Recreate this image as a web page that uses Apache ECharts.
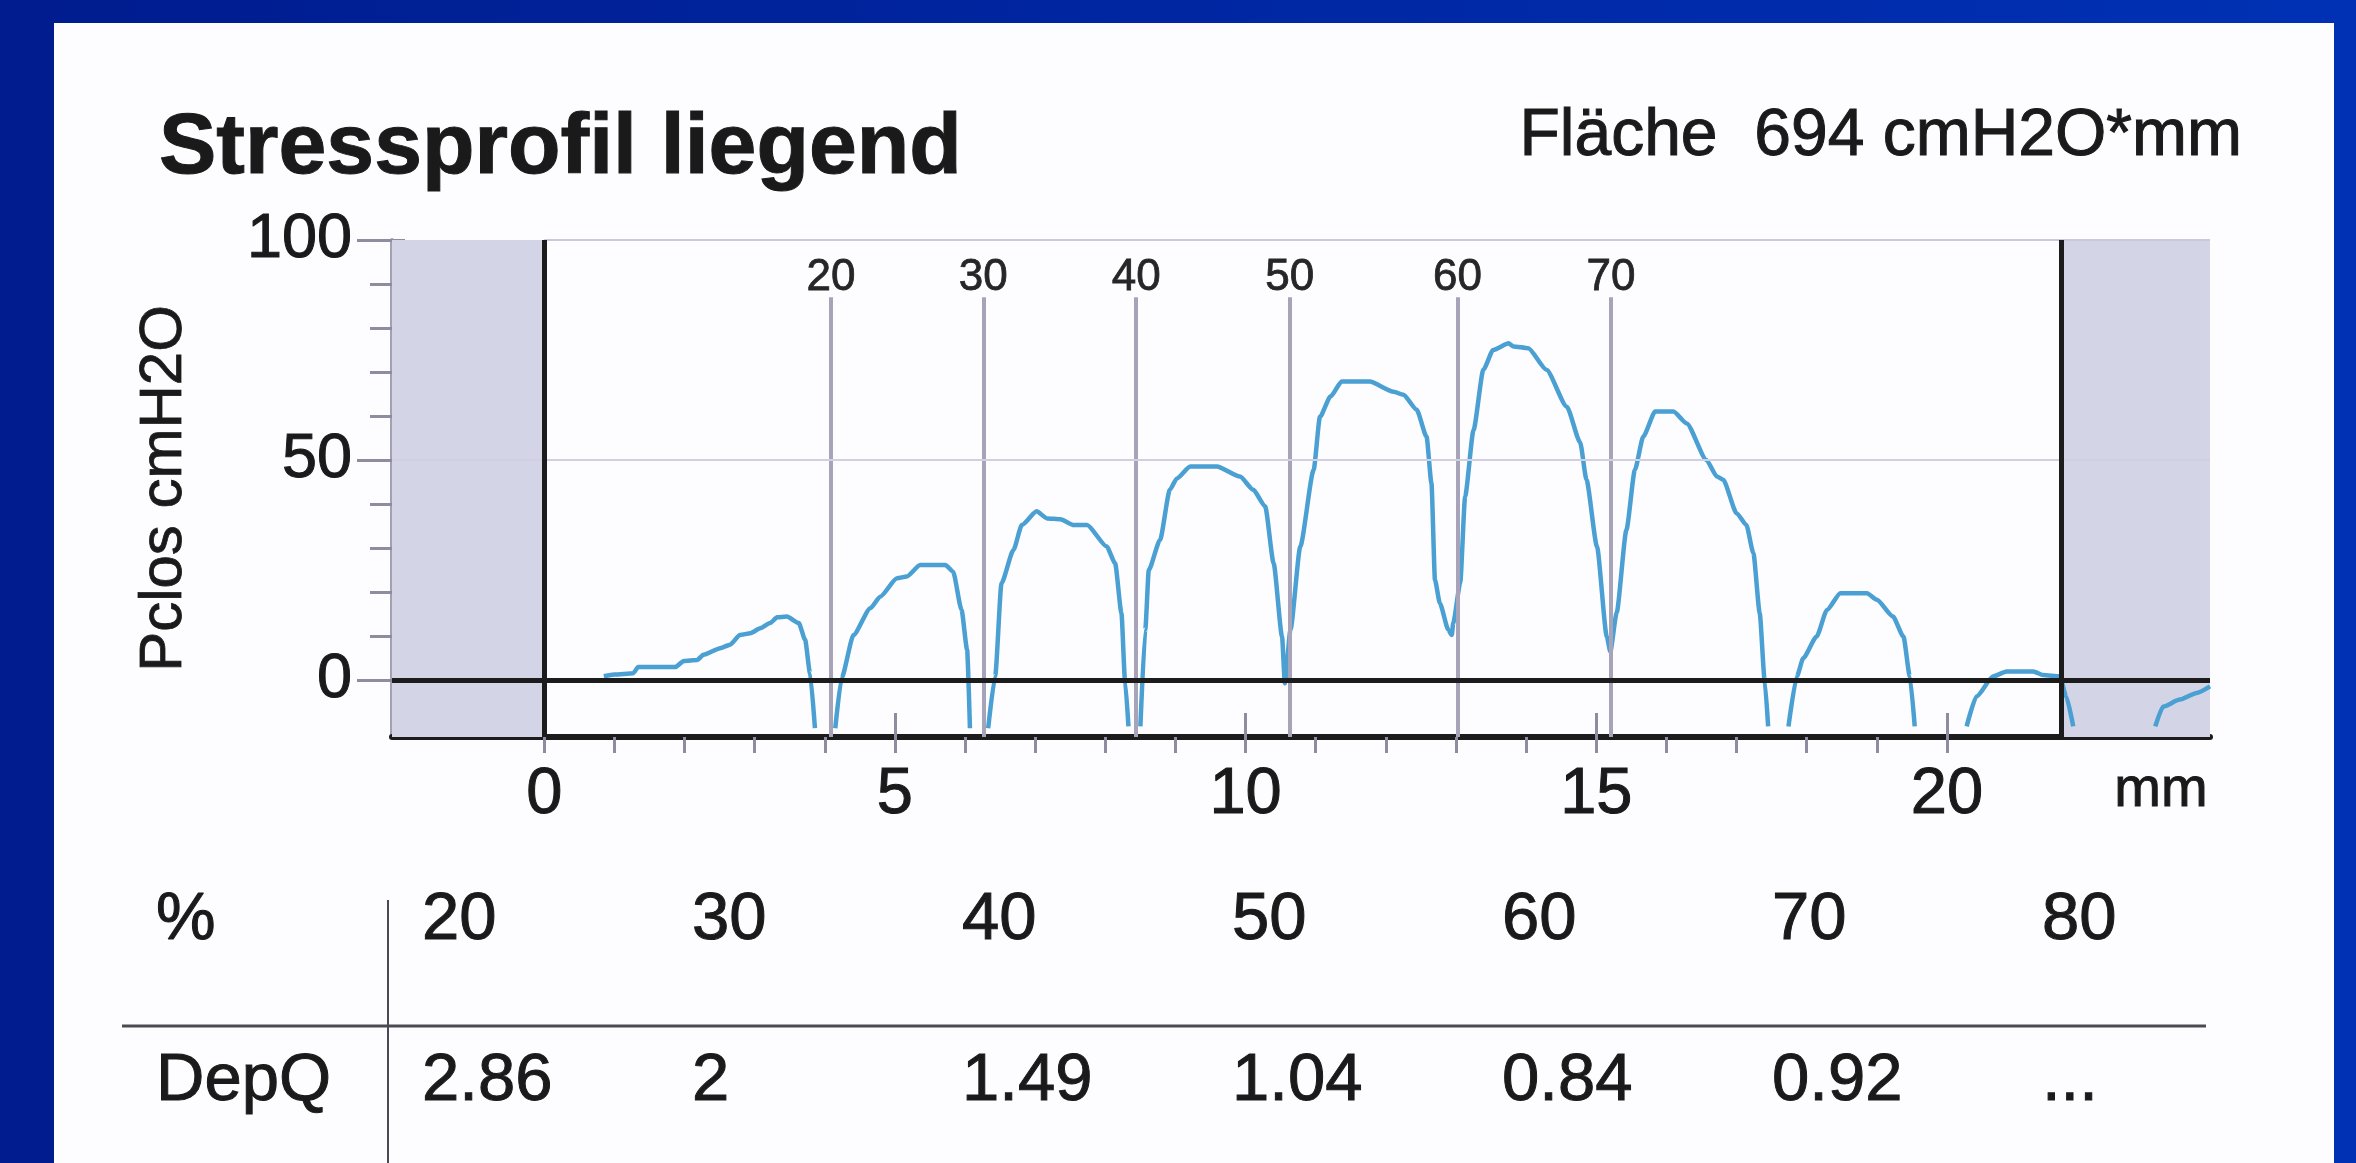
<!DOCTYPE html>
<html><head><meta charset="utf-8">
<script src="https://cdn.jsdelivr.net/npm/echarts@6/dist/echarts.min.js"></script>
<style>
html,body{margin:0;padding:0;width:2356px;height:1163px;overflow:hidden;
background:linear-gradient(90deg,#001c8e 0%,#0026a2 50%,#0031b4 100%);}
#panel{position:absolute;left:54px;top:23px;width:2280px;height:1140px;background:#fdfdff;}
#chart{position:absolute;left:0;top:0;width:2356px;height:1163px;}
</style></head><body><div id="panel"></div><div id="chart"></div>
<script>
// ---------- data ----------
const titleText = 'Stressprofil liegend';
const areaText = 'Fläche  694 cmH2O*mm';
const yName = 'Pclos cmH2O';
const xUnit = 'mm';
const xUnitPos = 23.05;
const xLabelValues = [0, 5, 10, 15, 20];
const xTickValues = [0,1,2,3,4,5,6,7,8,9,10,11,12,13,14,15,16,17,18,19,20];
const xMajorTicks = [5, 10, 15, 20];
const yLabelValues = [0, 50, 100];
const yTickValues = [0,10,20,30,40,50,60,70,80,90,100];
const xRange = [-2.17, 23.75];
const yRange = [-13, 100];
const measureStart = 0, measureEnd = 21.63;   // measured urethra length (mm)
const pctPositions = [4.09, 6.26, 8.44, 10.63, 13.02, 15.21];
const pctLabels = ['20', '30', '40', '50', '60', '70'];
const pctLineTop = 87;
const tablePct = ['20', '30', '40', '50', '60', '70', '80'];
const tableDepQ = ['2.86', '2', '1.49', '1.04', '0.84', '0.92', '...'];

// curve segments (mm, cmH2O); gaps where trace leaves the plot
const segA = [[0.85,0.8],[1.0,1.2],[1.27,1.5],[1.34,2.9],[1.87,2.9],[1.99,4.3],[2.18,4.5],[2.27,5.7],[2.51,7.2],[2.65,8.0],[2.79,10.2],[2.94,10.6],[3.08,11.7],[3.22,12.9],[3.32,14.2],[3.46,14.4],[3.63,12.9],[3.72,9.1],[3.79,1.5],[3.86,-11]];
const segB = [[4.15,-11],[4.24,0.4],[4.41,10.2],[4.65,16.3],[4.79,18.9],[5.03,23.1],[5.17,23.5],[5.36,26.1],[5.72,26.1],[5.83,24.6],[5.95,15.9],[6.03,6.8],[6.07,-11]];
const segC = [[6.33,-11],[6.43,0.8],[6.52,22.0],[6.69,29.5],[6.81,35.2],[7.02,38.3],[7.17,36.7],[7.36,36.5],[7.55,35.2],[7.74,35.2],[8.02,30.3],[8.14,26.5],[8.23,15.2],[8.28,0],[8.33,-10.6]];
const segD = [[8.50,-10.6],[8.57,11.4],[8.62,25],[8.78,31.8],[8.92,43.2],[9.02,45.8],[9.21,48.5],[9.59,48.5],[9.92,46.2],[10.11,43.2],[10.28,39.4],[10.40,26.5],[10.52,9.8],[10.56,-0.8],[10.64,11.4],[10.78,30.3],[10.97,47.7],[11.06,59.8],[11.21,64.4],[11.37,67.8],[11.77,67.8],[12.11,65.5],[12.25,64.8],[12.44,61.4],[12.58,55.3],[12.65,44.7],[12.70,22.7],[12.77,17.4],[12.89,11.4],[12.94,10.2],[12.96,12.9],[13.06,22.0],[13.13,41.7],[13.25,56.8],[13.39,70.5],[13.53,75],[13.75,76.5],[13.82,75.8],[14.03,75.4],[14.29,70.5],[14.58,62.1],[14.77,54],[14.86,45.5],[15.01,30.3],[15.15,9.8],[15.20,6.4],[15.29,15.2],[15.43,34.1],[15.55,47.7],[15.67,55.3],[15.84,61.0],[16.10,61.0],[16.29,58.3],[16.57,50],[16.72,46.2],[16.81,45.5],[17.0,37.9],[17.14,35.2],[17.24,28.8],[17.33,15.2],[17.40,0],[17.45,-10.6]];
const segE = [[17.74,-10.6],[17.86,0.8],[17.95,4.9],[18.14,9.8],[18.29,15.9],[18.48,19.7],[18.86,19.7],[19.0,18.2],[19.23,14.4],[19.38,9.8],[19.47,0.8],[19.54,-10.6]];
const segF = [[20.28,-10.6],[20.42,-3.8],[20.66,0.8],[20.85,1.9],[21.23,1.9],[21.37,1.1],[21.61,0.8],[21.70,-3.8],[21.80,-10.6]];
const segG = [[22.97,-10.6],[23.08,-6.1],[23.32,-4.5],[23.56,-3],[23.75,-1.5]];
const segments = [segA, segB, segC, segD, segE, segF, segG];

// ---------- chart ----------
const FONT = "'Liberation Sans', Arial, Helvetica, sans-serif";
const TXT = '#1a1a1a';
const TICK = '#8e8c9e';
const chart = echarts.init(document.getElementById('chart'), null, {renderer: 'canvas'});

const curveSeries = segments.map(s => ({
  type: 'line', data: s, symbol: 'none', z: 3, silent: true,
  smooth: 0.2, smoothMonotone: 'x',
  lineStyle: {color: '#4a9fd3', width: 4.5}, clip: true
}));

function txt(text, x, y, size, align, weight) {
  return {type: 'text', style: {text: text, x: x, y: y, fill: TXT,
    font: (weight || 'normal') + ' ' + size + 'px ' + FONT, align: align, verticalAlign: 'middle',
    stroke: TXT, lineWidth: 1}};
}
const graphicEls = [
  txt(titleText, 159, 149, 86, 'left', 'bold'),
  txt(areaText, 2242, 137, 66, 'right'),
  txt('%', 156, 921, 67, 'left'),
  txt('DepQ', 156, 1082, 67, 'left'),
  {type: 'line', shape: {x1: 122, y1: 1026, x2: 2206, y2: 1026}, style: {stroke: '#4a4a52', lineWidth: 3}},
  {type: 'line', shape: {x1: 388, y1: 900, x2: 388, y2: 1163}, style: {stroke: '#4a4a52', lineWidth: 2}}
];
tablePct.forEach((t, i) => graphicEls.push(txt(t, 422 + i * 270, 921, 67, 'left')));
tableDepQ.forEach((t, i) => graphicEls.push(txt(t, 422 + i * 270, 1082, 67, 'left')));

const baseX = {type: 'value', min: xRange[0], max: xRange[1], position: 'bottom',
  splitLine: {show: false}};
const baseY = {type: 'value', min: yRange[0], max: yRange[1], position: 'left',
  splitLine: {show: false}};

chart.setOption({
  animation: false,
  grid: {left: 392, top: 240, width: 1818, height: 497, show: false},
  xAxis: [
    Object.assign({}, baseX, {
      axisLine: {show: true, onZero: false, lineStyle: {color: '#1c1c1c', width: 6}},
      axisTick: {show: true, customValues: xTickValues, length: 16, lineStyle: {color: TICK, width: 3}},
      axisLabel: {show: true, customValues: xLabelValues.concat([xUnitPos]), margin: 26,
        fontFamily: FONT, fontSize: 65, color: TXT, textBorderColor: TXT, textBorderWidth: 1,
        formatter: v => (v > 21 ? '{u|' + xUnit + '}' : String(v)),
        rich: {u: {fontFamily: FONT, fontSize: 56, color: TXT, textBorderColor: TXT, textBorderWidth: 1, padding: [0, 0, 2, 0]}}}
    }),
    Object.assign({}, baseX, {
      axisLine: {show: false, onZero: false},
      axisTick: {show: true, inside: true, customValues: xMajorTicks, length: 24, lineStyle: {color: TICK, width: 3}},
      axisLabel: {show: false}
    })
  ],
  yAxis: [
    Object.assign({}, baseY, {
      name: yName, nameLocation: 'middle', nameRotate: 90, nameGap: 198,
      nameTextStyle: {fontFamily: FONT, fontSize: 60, color: TXT, textBorderColor: TXT, textBorderWidth: 0.8},
      axisLine: {show: true, onZero: false, lineStyle: {color: '#a2a0b2', width: 4}},
      axisTick: {show: true, customValues: yLabelValues, length: 35, lineStyle: {color: TICK, width: 3}},
      axisLabel: {show: true, customValues: yLabelValues, margin: 40,
        fontFamily: FONT, fontSize: 63, color: TXT, textBorderColor: TXT, textBorderWidth: 1}
    }),
    Object.assign({}, baseY, {
      axisLine: {show: false, onZero: false},
      axisTick: {show: true, customValues: yTickValues, length: 22, lineStyle: {color: TICK, width: 3}},
      axisLabel: {show: false}
    }),
    Object.assign({}, baseY, {
      axisLine: {show: false, onZero: false},
      axisTick: {show: true, inside: true, customValues: yLabelValues, length: 13, lineStyle: {color: TICK, width: 3}},
      axisLabel: {show: false}
    })
  ],
  graphic: graphicEls,
  series: [
    {
      type: 'line', data: [], z: 1, silent: true,
      markArea: {silent: true, itemStyle: {color: '#d4d4e7'},
        data: [[{xAxis: xRange[0]}, {xAxis: measureStart}], [{xAxis: measureEnd}, {xAxis: xRange[1]}]]},
      markLine: {silent: true, symbol: ['none', 'none'], animation: false,
        label: {show: true, position: 'start', formatter: '{b}', distance: -3,
          fontFamily: FONT, fontSize: 44, color: '#262626', textBorderColor: '#262626', textBorderWidth: 0.8},
        lineStyle: {color: '#a7a3b9', width: 4, type: 'solid'},
        data: pctPositions.map((x, i) => [
          {name: pctLabels[i], coord: [x, pctLineTop]},
          {coord: [x, yRange[0]]}
        ]).concat([
          [{name: '', coord: [measureStart, 100], lineStyle: {color: '#cbc7dc', width: 2}, label: {show: false}},
           {coord: [xRange[1], 100]}],
          [{name: '', coord: [xRange[0], 50], lineStyle: {color: '#d2cfe2', width: 2}, label: {show: false}},
           {coord: [xRange[1], 50]}]
        ])
      }
    },
    ...curveSeries,
    {
      type: 'line', data: [], z: 5, silent: true,
      markLine: {silent: true, symbol: ['none', 'none'], animation: false,
        label: {show: false},
        lineStyle: {color: '#1c1c1c', width: 5, type: 'solid'},
        data: [{xAxis: measureStart}, {xAxis: measureEnd}, {yAxis: 0}]
      }
    }
  ]
});
</script></body></html>
